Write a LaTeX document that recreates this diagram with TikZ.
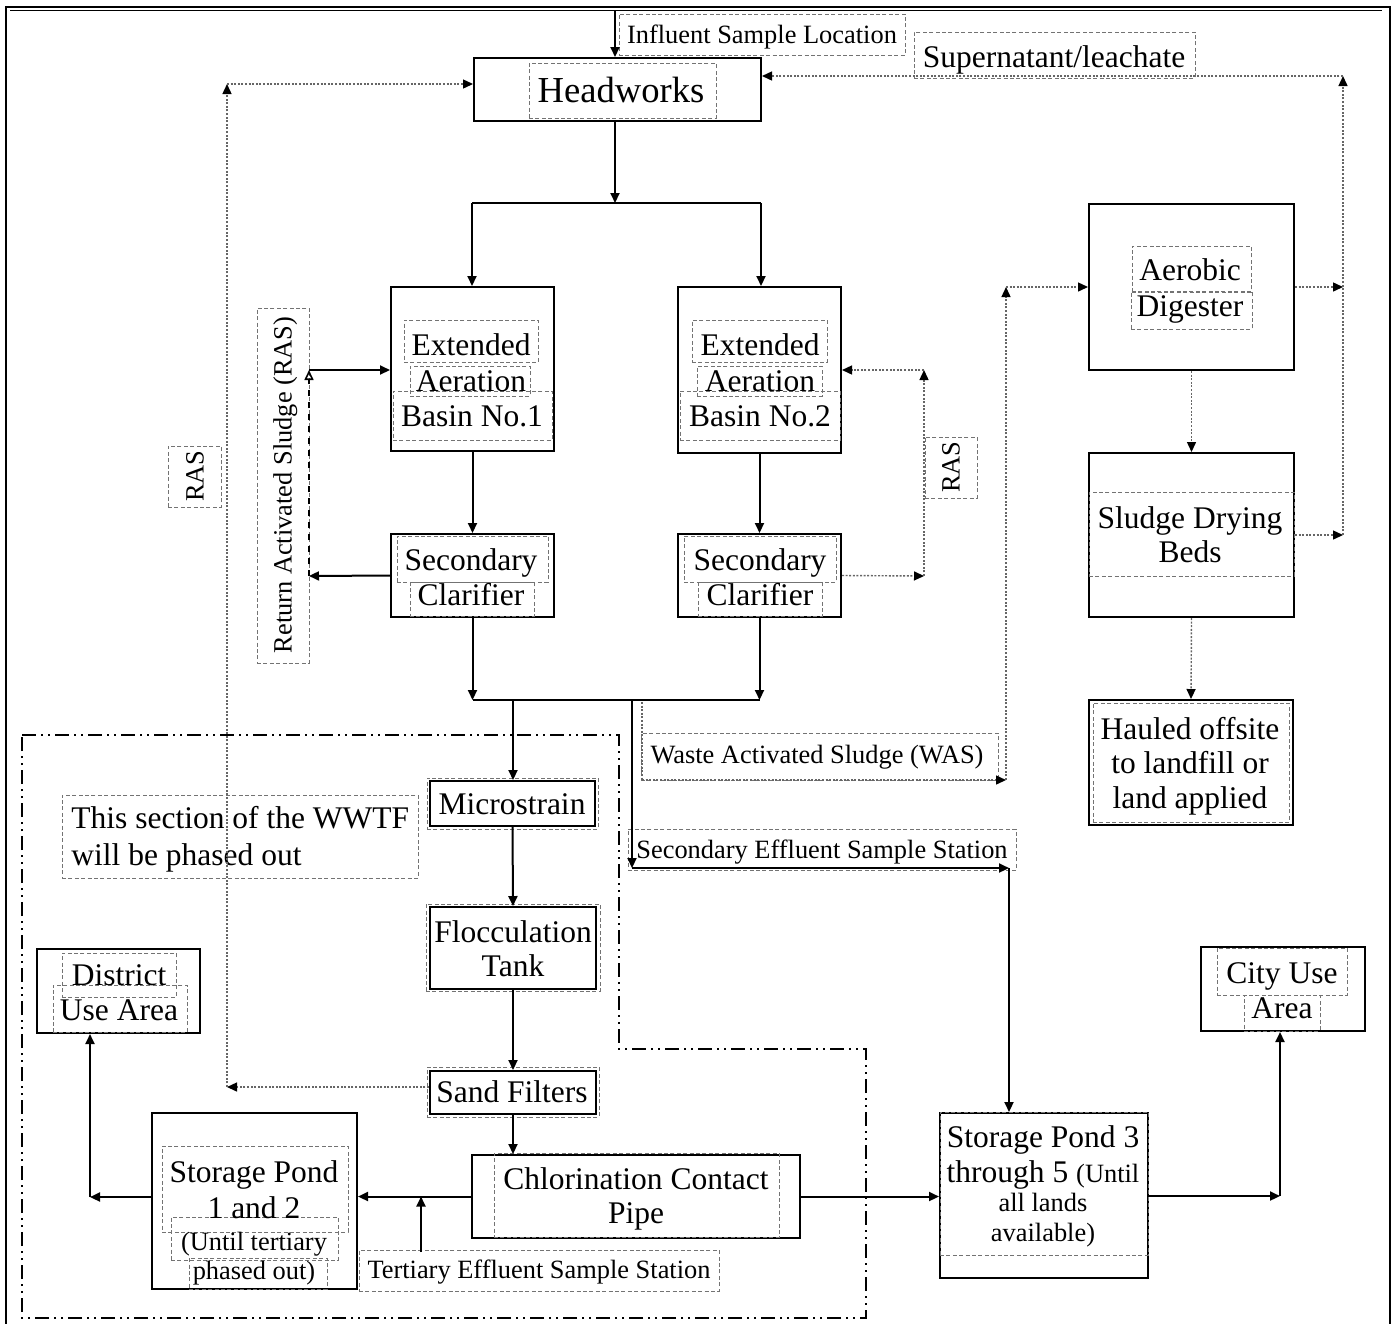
\documentclass[tikz,border=0pt]{standalone}
\usepackage{fontspec}
\setmainfont{Liberation Serif}
\usetikzlibrary{arrows.meta,fit}
\begin{document}
\begin{tikzpicture}[x=0.5pt,y=-0.5pt,
  box/.style={draw, line width=1pt, inner sep=0pt},
  tb/.style={draw=black!55, line width=0.5pt, dash pattern=on 2pt off 1.2pt, inner sep=0pt},
  T/.style={font=\fontsize{15.75}{17.5}\selectfont, inner sep=0pt, text height=10pt, text depth=0pt},
  TH/.style={font=\fontsize{18.3}{20}\selectfont, inner sep=0pt, text height=11.5pt, text depth=0pt},
  S/.style={font=\fontsize{13.2}{15}\selectfont, inner sep=0pt, text height=8.5pt, text depth=0pt},
  tip/.tip={Triangle[length=5pt,width=4.5pt,black]},
  line/.style={line width=1pt},
  flow/.style={line width=1pt, -tip},
  dline/.style={line width=0.7pt, draw=black!60, dash pattern=on 1pt off 0.8pt},
  dflow/.style={dline, -tip},
  rasl/.style={line width=0.8pt, dashed, -{Triangle[open,length=5pt,width=4.5pt]}},
  phase/.style={line width=1pt, dash pattern=on 7pt off 2.5pt on 1pt off 2.5pt on 1pt off 2.5pt}
]
\useasboundingbox (0,0) rectangle (1396,1324);
% outer frame
\draw[line width=1.3pt] (5,7) -- (1391,7);
\draw[line width=0.6pt] (10,10.5) -- (1382,10.5);
\draw[line width=1.3pt] (6,7) -- (6,1324);
\draw[line width=1.3pt] (1390,7) -- (1390,1324);

% phase-out boundary
\draw[phase] (22,735) -- (619,735) -- (619,1049) -- (866,1049) -- (866,1318) -- (22,1318) -- cycle;

% main boxes
\node[box, fit={(474,58)(761,121)}] (hw) {};
\node[box, fit={(391,287)(554,451)}] (b1) {};
\node[box, fit={(678,287)(841,453)}] (b2) {};
\node[box, fit={(391,534)(554,617)}] (c1) {};
\node[box, fit={(678,534)(841,617)}] (c2) {};
\node[box, fit={(1089,204)(1294,370)}] (dig) {};
\node[box, fit={(1089,453)(1294,617)}] (bed) {};
\node[box, fit={(1089,700)(1293,825)}] (haul) {};
\node[box, fit={(430,781)(595,826)}] (ms) {};
\node[box, fit={(430,907)(596,989)}] (fl) {};
\node[box, fit={(430,1071)(596,1114)}] (sf) {};
\node[box, fit={(472,1155)(800,1238)}] (cl) {};
\node[box, fit={(152,1113)(357,1289)}] (sp1) {};
\node[box, fit={(37,949)(200,1033)}] (du) {};
\node[box, fit={(940,1113)(1148,1278)}] (sp3) {};
\node[box, fit={(1201,947)(1365,1031)}] (cu) {};

% dashed text frames
\node[tb, fit={(619,14)(905,55)}] (finf) {};
\node[tb, fit={(914,32)(1195,78)}] (fsup) {};
\node[tb, fit={(529,63)(716,118)}] (fhw) {};
\node[tb, fit={(404,320)(538,362)}] (fb1a) {};
\node[tb, fit={(410,366)(530,396)}] (fb1b) {};
\node[tb, fit={(393,391)(552,440)}] (fb1c) {};
\node[tb, fit={(692,320)(827,362)}] (fb2a) {};
\node[tb, fit={(697,366)(822,396)}] (fb2b) {};
\node[tb, fit={(680,391)(840,440)}] (fb2c) {};
\node[tb, fit={(397,536)(548,582)}] (fc1a) {};
\node[tb, fit={(410,582)(534,616)}] (fc1b) {};
\node[tb, fit={(684,536)(836,582)}] (fc2a) {};
\node[tb, fit={(698,582)(822,616)}] (fc2b) {};
\node[tb, fit={(257,308)(309,663)}] (fras1) {};
\node[tb, fit={(168,446)(221,507)}] (fras2) {};
\node[tb, fit={(925,437)(977,498)}] (fras3) {};
\node[tb, fit={(1132,246)(1251,292)}] (fdiga) {};
\node[tb, fit={(1131,291)(1252,329)}] (fdigb) {};
\node[tb, fit={(1089,492)(1294,576)}] (fbed) {};
\node[tb, fit={(1093,703)(1289,822)}] (fhaul) {};
\node[tb, fit={(641,733)(998,780)}] (fwas) {};
\node[tb, fit={(628,829)(1016,870)}] (fses) {};
\node[tb, fit={(62,795)(418,878)}] (fph) {};
\node[tb, fit={(427,778)(598,829)}] (fms) {};
\node[tb, fit={(426,904)(600,991)}] (ffl) {};
\node[tb, fit={(427,1067)(599,1117)}] (fsf) {};
\node[tb, fit={(494,1153)(779,1237)}] (fcl) {};
\node[tb, fit={(162,1146)(348,1232)}] (fsp1a) {};
\node[tb, fit={(171,1217)(338,1260)}] (fsp1b) {};
\node[tb, fit={(189,1258)(327,1289)}] (fsp1c) {};
\node[tb, fit={(359,1250)(719,1291)}] (fter) {};
\node[tb, fit={(62,953)(176,997)}] (fdua) {};
\node[tb, fit={(53,985)(187,1032)}] (fdub) {};
\node[tb, fit={(940,1112)(1148,1255)}] (fsp3) {};
\node[tb, fit={(1217,948)(1347,995)}] (fcua) {};
\node[tb, fit={(1244,995)(1320,1031)}] (fcub) {};

% texts
\node[S] (tinf) at (762,35) {Influent Sample Location};
\node[T] (tsup) at (1054,57) {Supernatant/leachate};
\node[TH] (thw) at (621,91) {Headworks};
\node[T] (tb1a) at (471,345) {Extended};
\node[T] (tb1b) at (471,381) {Aeration};
\node[T] (tb1c) at (472,416) {Basin No.1};
\node[T] (tb2a) at (760,345) {Extended};
\node[T] (tb2b) at (760,381) {Aeration};
\node[T] (tb2c) at (760,416) {Basin No.2};
\node[T] (tc1a) at (471,560) {Secondary};
\node[T] (tc1b) at (471,595) {Clarifier};
\node[T] (tc2a) at (760,560) {Secondary};
\node[T] (tc2b) at (760,595) {Clarifier};
\node[S, rotate=90] (tras1) at (283,485) {Return Activated Sludge (RAS)};
\node[S, rotate=90] (tras2) at (195,476) {RAS};
\node[S, rotate=90] (tras3) at (951,467) {RAS};
\node[T] (tdiga) at (1190,270) {Aerobic};
\node[T] (tdigb) at (1190,306) {Digester};
\node[T] (tbeda) at (1190,518) {Sludge Drying};
\node[T] (tbedb) at (1190,552) {Beds};
\node[T] (thaula) at (1190,729) {Hauled offsite};
\node[T] (thaulb) at (1190,763) {to landfill or};
\node[T] (thaulc) at (1190,798) {land applied};
\node[S] (twas) at (817,755) {Waste Activated Sludge (WAS)};
\node[S] (tses) at (822,850) {Secondary Effluent Sample Station};
\node[T, anchor=west] (tpha) at (71,818) {This section of the WWTF};
\node[T, anchor=west] (tphb) at (71,855) {will be phased out};
\node[T] (tms) at (512,804) {Microstrain};
\node[T] (tfla) at (513,932) {Flocculation};
\node[T] (tflb) at (513,966) {Tank};
\node[T] (tsf) at (512,1092) {Sand Filters};
\node[T] (tcla) at (636,1179) {Chlorination Contact};
\node[T] (tclb) at (636,1213) {Pipe};
\node[T] (tsp1a) at (254,1172) {Storage Pond};
\node[T] (tsp1b) at (254,1208) {1 and 2};
\node[S] (tsp1c) at (254,1242) {(Until tertiary};
\node[S] (tsp1d) at (254,1271) {phased out)};
\node[S] (tter) at (539,1270) {Tertiary Effluent Sample Station};
\node[T] (tdua) at (119,975) {District};
\node[T] (tdub) at (119,1010) {Use Area};
\node[T] (tsp3a) at (1043,1137) {Storage Pond 3};
\node[T] (tsp3b) at (1043,1172) {through 5 {\fontsize{13.2}{15}\selectfont(Until}};
\node[S] (tsp3c) at (1043,1203) {all lands};
\node[S] (tsp3d) at (1043,1233) {available)};
\node[T] (tcua) at (1282,973) {City Use};
\node[T] (tcub) at (1282,1008) {Area};

% connectors
\coordinate (inf) at (615,10.5);
\draw[flow] (inf) -- (inf |- hw.north);
\coordinate (sp) at (615,203);
\draw[flow] (sp |- hw.south) -- (sp);
\coordinate (spL) at (472,203);
\coordinate (spR) at (761,203);
\draw[line] (spL) -- (spR);
\draw[flow] (spL) -- (spL |- b1.north);
\draw[flow] (spR) -- (spR |- b2.north);
\draw[flow] (b1.south) -- (c1.north);
\draw[flow] (b2.south) -- (c2.north);
% RAS basin 1
\coordinate (rL) at (309,576);
\coordinate (rLt) at (309,370);
\draw[flow] (c1.west) -- (rL);
\draw[rasl] (rL) -- (rLt);
\draw[flow] (rLt) -- (rLt -| b1.west);
% RAS basin 2
\coordinate (rR) at (924,576);
\coordinate (rRt) at (924,370);
\draw[dflow] (c2.east) -- (rR);
\draw[dflow] (rR) -- (rRt);
\draw[dflow] (rRt) -- (rRt -| b2.east);
% clarifiers to junction
\coordinate (jL) at (472,700);
\coordinate (jR) at (759,700);
\draw[flow] (c1.south) -- (c1.south |- jL);
\draw[flow] (c2.south) -- (c2.south |- jR);
\draw[line] (c1.south |- jL) -- (c2.south |- jR);
\coordinate (jm) at (513,700);
\draw[flow] (jm) -- (jm |- ms.north);
% secondary effluent
\coordinate (se1) at (632,700);
\coordinate (se2) at (632,868);
\coordinate (se3) at (1009,868);
\draw[flow] (se1) -- (se2);
\draw[flow] (se2) -- (se3);
\draw[flow] (se3) -- (se3 |- sp3.north);
% WAS
\coordinate (w1) at (642,702);
\coordinate (w2) at (642,780);
\coordinate (w3) at (1006,780);
\coordinate (w4) at (1006,287);
\draw[dline] (w1) -- (w2);
\draw[dflow] (w2) -- (w3);
\draw[dflow] (w3) -- (w4);
\draw[dflow] (w4) -- (w4 -| dig.west);
% sludge line
\coordinate (e1) at (1343,287);
\coordinate (e2) at (1343,535);
\coordinate (e3) at (1343,76);
\draw[dflow] (dig.east) -- (e1);
\draw[dflow] (bed.east) -- (e2);
\draw[dflow] (e2) -- (e3);
\draw[dflow] (e3) -- (e3 -| hw.east);
\draw[dflow] (dig.south) -- (bed.north);
\draw[dflow] (bed.south) -- (haul.north);
% left RAS from sand filters
\coordinate (l1) at (227,1087);
\coordinate (l2) at (227,84);
\draw[dflow] (sf.west |- l1) -- (l1);
\draw[dflow] (l1) -- (l2);
\draw[dflow] (l2) -- (l2 -| hw.west);
% tertiary train
\draw[flow] (ms.south) -- (fl.north);
\draw[flow] (fl.south) -- (fl.south |- sf.north);
\draw[flow] (sf.south) -- (sf.south |- cl.north);
\draw[flow] (cl.west) -- (cl.west -| sp1.east);
\coordinate (te) at (421,1252);
\draw[flow] (te) -- (te |- cl.west);
\coordinate (d1) at (90,1197);
\draw[flow] (sp1.west |- d1) -- (d1);
\draw[flow] (d1) -- (d1 |- du.south);
\draw[flow] (cl.east) -- (cl.east -| sp3.west);
\coordinate (c3) at (1280,1196);
\draw[flow] (sp3.east |- c3) -- (c3);
\draw[flow] (c3) -- (c3 |- cu.south);
\end{tikzpicture}
\end{document}
